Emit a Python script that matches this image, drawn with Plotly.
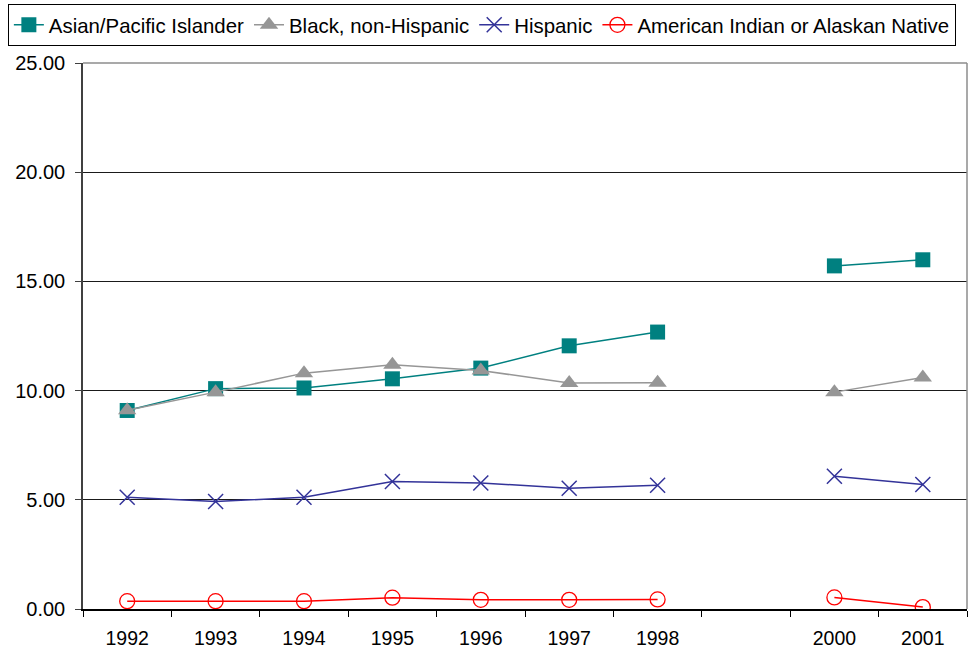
import plotly.graph_objects as go

# Years on the category axis; 1999 has no data and no label
years = ["1992", "1993", "1994", "1995", "1996", "1997", "1998", "1999", "2000", "2001"]
year_labels = ["1992", "1993", "1994", "1995", "1996", "1997", "1998", "", "2000", "2001"]

asian_pacific = [9.09, 10.09, 10.12, 10.54, 11.03, 12.05, 12.68, None, 15.71, 15.99]
black_non_hispanic = [9.10, 9.93, 10.80, 11.18, 10.92, 10.35, 10.36, None, 9.93, 10.60]
hispanic = [5.12, 4.92, 5.12, 5.84, 5.77, 5.53, 5.67, None, 6.08, 5.70]
american_indian = [0.36, 0.36, 0.36, 0.52, 0.42, 0.42, 0.44, None, 0.53, 0.09]

y_ticks = [0, 5, 10, 15, 20, 25]

FONT = "Liberation Sans, Arial, sans-serif"

fig = go.Figure()

fig.add_trace(go.Scatter(
    x=years, y=asian_pacific, name="Asian/Pacific Islander", mode="lines+markers",
    line=dict(color="#008080", width=1.5),
    marker=dict(symbol="square", size=15, color="#008080"),
    connectgaps=False,
))
fig.add_trace(go.Scatter(
    x=years, y=black_non_hispanic, name="Black, non-Hispanic", mode="lines+markers",
    line=dict(color="#969696", width=1.5),
    marker=dict(symbol="triangle-up", size=16, color="#969696"),
    connectgaps=False,
))
fig.add_trace(go.Scatter(
    x=years, y=hispanic, name="Hispanic", mode="lines+markers",
    line=dict(color="#333399", width=1.5),
    marker=dict(symbol="x-thin-open", size=15, color="#333399",
                line=dict(color="#333399", width=1.5)),
    connectgaps=False,
))
fig.add_trace(go.Scatter(
    x=years, y=american_indian, name="American Indian or Alaskan Native", mode="lines+markers",
    line=dict(color="#FF0000", width=1.5),
    marker=dict(symbol="circle-open", size=15, color="#FF0000",
                line=dict(color="#FF0000", width=1.3)),
    connectgaps=False,
))

fig.update_layout(
    width=971, height=651,
    margin=dict(l=83, r=4, t=63, b=42, autoexpand=False),
    paper_bgcolor="white", plot_bgcolor="white",
    font=dict(family=FONT, size=20, color="black"),
    showlegend=True,
    legend=dict(
        orientation="h", x=-0.085, y=1.108, xanchor="left", yanchor="top",
        bordercolor="#000000", borderwidth=1, bgcolor="white",
        font=dict(family=FONT, size=20.4, color="black"),
        tracegroupgap=0,
    ),
    xaxis=dict(
        type="category", categoryorder="array", categoryarray=years,
        range=[-0.5, len(years) - 0.5],
        tickmode="array", tickvals=years, ticktext=year_labels,
        tickson="boundaries", ticks="outside", ticklen=6, tickcolor="black",
        showline=True, linecolor="black", linewidth=1.5,
        showgrid=False, zeroline=False, automargin=False,
        tickfont=dict(family=FONT, size=19.5, color="black"),
        ticklabelstandoff=11,
    ),
    yaxis=dict(
        range=[0, 25], tickvals=y_ticks, tickformat=".2f",
        ticks="outside", ticklen=6, tickcolor="#404040",
        showline=True, linecolor="#404040", linewidth=1.5,
        showgrid=True, gridcolor="#1a1a1a", gridwidth=1,
        zeroline=False, automargin=False,
        tickfont=dict(family=FONT, size=20, color="black"),
        ticklabelstandoff=6,
    ),
    shapes=[
        # light plot-area border on the top and right sides
        dict(type="line", xref="paper", yref="paper", x0=0, x1=1, y0=1, y1=1,
             line=dict(color="#8c8c8c", width=1.5)),
        dict(type="line", xref="paper", yref="paper", x0=1, x1=1, y0=0, y1=1,
             line=dict(color="#8c8c8c", width=1.5)),
    ],
)

fig.write_html("out.html")
